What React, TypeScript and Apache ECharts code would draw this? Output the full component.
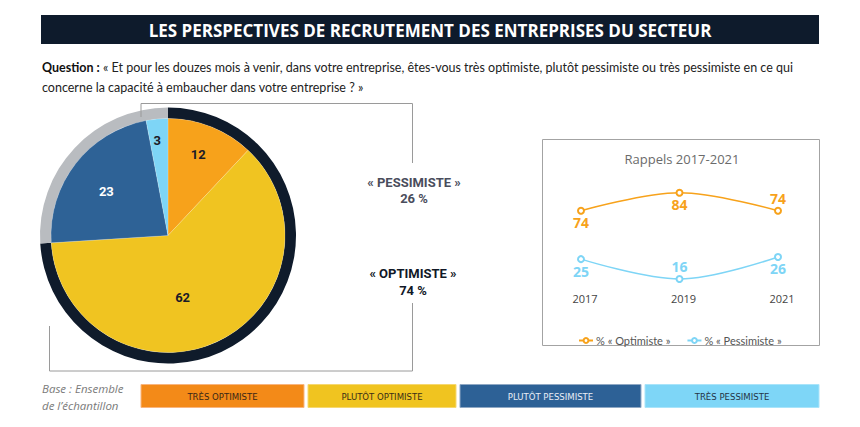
import React, { useEffect, useRef } from "react";
import * as echarts from "echarts";

// ---- data ----
const pieCategories = ["Très optimiste", "Plutôt optimiste", "Plutôt pessimiste", "Très pessimiste"];
const pieValues = [12, 62, 23, 3];
const ringCategories = ["« OPTIMISTE »", "« PESSIMISTE »"];
const ringValues = [74, 26];
const years = ["2017", "2019", "2021"];
const optimisteValues = [74, 84, 74];
const pessimisteValues = [25, 16, 26];
const baseLines = ["Base : Ensemble", "de l’échantillon"];

// ---- styles ----
const sliceColors = ["#F7A21B", "#F0C421", "#2E6296", "#7ED5F6"];
const sliceLabelColors = ["#1B1B28", "#1B1B28", "#FFFFFF", "#1B1B28"];
const legendColors = ["#F38A18", "#F0C420", "#2D6196", "#7ED6F7"];
const legendBorders = ["#F9B57E", "#F6D870", "#8FA8C4", "#A9E4FA"];
const legendTextColors = ["#3A2616", "#3A2E16", "#E8EEF6", "#243446"];
const legendX = [141, 308, 460, 645];
const legendW = [163, 148, 181, 174];
const ringColors = ["#0F1B2B", "#B9BCC0"];
const labelRadius = [86, 64, 76, 96];
const labelAngleShift = [-1, 12, -2, -1];
const optColor = "#F7A21B";
const pesColor = "#7ED5F6";

const CX = 168;
const CY = 235.5;

export default function App() {
  const ref = useRef<HTMLDivElement>(null);
  useEffect(() => {
    if (!ref.current) return;
    const chart = echarts.init(ref.current, null, { renderer: "svg" });
    const total = pieValues.reduce((a, b) => a + b, 0);
    const mids: number[] = [];
    let acc = 0;
    pieValues.forEach((v) => {
      mids.push(((acc + v / 2) / total) * 360);
      acc += v;
    });

    const legendGraphics: any[] = [];
    pieCategories.forEach((c, i) => {
      legendGraphics.push({
        type: "rect",
        shape: { x: legendX[i], y: 384.5, width: legendW[i], height: 23 },
        style: { fill: legendColors[i], stroke: legendBorders[i], lineWidth: 1 },
      });
      legendGraphics.push({
        type: "text",
        x: legendX[i] + legendW[i] / 2,
        y: 396.5,
        style: {
          text: c.toUpperCase(),
          fill: legendTextColors[i],
          font: "9.5px 'Liberation Sans Narrow', 'DejaVu Sans Condensed', 'Roboto', sans-serif",
          textAlign: "center",
          textVerticalAlign: "middle",
        },
      });
    });
    const baseGraphics = baseLines.map((t, i) => ({
      type: "text",
      x: 42,
      y: 388.5 + i * 16.5,
      style: {
        text: t,
        fill: "#7A7A7A",
        font: "italic 11.5px 'Open Sans', sans-serif",
        textVerticalAlign: "middle",
      },
    }));

    const option: any = {
      animation: false,
      backgroundColor: "#FFFFFF",
      graphic: [
        {
          type: "rect",
          shape: { x: 41, y: 15, width: 778, height: 29 },
          style: { fill: "#0E1B2C" },
        },
        {
          type: "text",
          x: 430,
          y: 30,
          style: {
            text: "LES PERSPECTIVES DE RECRUTEMENT DES ENTREPRISES DU SECTEUR",
            fill: "#FFFFFF",
            font: "bold 17px 'Open Sans', sans-serif",
            textAlign: "center",
            textVerticalAlign: "middle",
          },
        },
        {
          type: "text",
          x: 42,
          y: 57,
          style: {
            text:
              "{b|Question :} « Et pour les douzes mois à venir, dans votre entreprise, êtes-vous très optimiste, plutôt pessimiste ou très pessimiste en ce qui\nconcerne la capacité à embaucher dans votre entreprise ? »",
            fill: "#222222",
            font: "12.5px 'Lato', sans-serif",
            lineHeight: 20,
            rich: {
              b: { font: "bold 12.5px 'Lato', sans-serif", fill: "#111111", lineHeight: 20 },
            },
          },
        },
        // bracket lines
        {
          type: "polyline",
          z: 10,
          shape: { points: [[141, 117], [141, 103.5], [412.5, 103.5], [412.5, 163]] },
          style: { stroke: "#9A9A9A", lineWidth: 1, fill: "none" },
        },
        {
          type: "polyline",
          shape: { points: [[49.5, 326], [49.5, 371], [412.5, 371], [412.5, 303]] },
          style: { stroke: "#9A9A9A", lineWidth: 1, fill: "none" },
        },
        {
          type: "text",
          x: 414,
          y: 182,
          style: {
            text: ringCategories[1],
            fill: "#4A4D5C",
            font: "bold 13px 'Roboto', sans-serif",
            textAlign: "center",
            textVerticalAlign: "middle",
          },
        },
        {
          type: "text",
          x: 414,
          y: 198,
          style: {
            text: ringValues[1] + " %",
            fill: "#4A4D5C",
            font: "bold 13px 'Roboto', sans-serif",
            textAlign: "center",
            textVerticalAlign: "middle",
          },
        },
        {
          type: "text",
          x: 413,
          y: 273,
          style: {
            text: ringCategories[0],
            fill: "#111827",
            font: "bold 13px 'Roboto', sans-serif",
            textAlign: "center",
            textVerticalAlign: "middle",
          },
        },
        {
          type: "text",
          x: 413,
          y: 290,
          style: {
            text: ringValues[0] + " %",
            fill: "#111827",
            font: "bold 13px 'Roboto', sans-serif",
            textAlign: "center",
            textVerticalAlign: "middle",
          },
        },
        // line chart box
        {
          type: "rect",
          shape: { x: 542.5, y: 139.5, width: 277, height: 206 },
          style: { fill: "none", stroke: "#A3A3A3", lineWidth: 1 },
        },
        {
          type: "text",
          x: 682,
          y: 159,
          style: {
            text: "Rappels 2017-2021",
            fill: "#6B6B6B",
            font: "13px 'Open Sans', sans-serif",
            textAlign: "center",
            textVerticalAlign: "middle",
          },
        },
        ...baseGraphics,
        ...legendGraphics,
      ],
      grid: { left: 581, right: 82, top: 182, bottom: 427 - 290 },
      xAxis: {
        type: "category",
        data: years,
        boundaryGap: false,
        axisLine: { show: false },
        axisTick: { show: false },
        splitLine: { show: false },
        axisLabel: {
          margin: 3,
          color: "#444444",
          fontSize: 11,
          fontFamily: "'Open Sans', sans-serif",
          padding: [0, 0, 0, 8],
        },
      },
      yAxis: [
        { type: "value", min: 30, max: 90, show: false },
        { type: "value", min: 11, max: 60, show: false },
      ],
      legend: {
        left: 573,
        top: 330,
        itemWidth: 14,
        itemHeight: 6,
        itemGap: 16,
        textStyle: { color: "#555555", fontSize: 11, fontFamily: "'Lato', sans-serif", padding: [0, 0, 0, -2] },
        data: ["% « Optimiste »", "% « Pessimiste »"],
      },
      series: [
        {
          type: "pie",
          silent: true,
          center: [CX, CY],
          radius: [117, 128],
          startAngle: 90,
          clockwise: true,
          label: { show: false },
          labelLine: { show: false },
          data: ringValues.map((v, i) => ({ name: ringCategories[i], value: v, itemStyle: { color: ringColors[i] } })),
        },
        {
          type: "pie",
          silent: true,
          center: [CX, CY],
          radius: [0, 117],
          startAngle: 90,
          clockwise: true,
          itemStyle: { borderColor: "rgba(255,255,255,0.35)", borderWidth: 0.5 },
          label: {
            show: true,
            position: "inside",
            formatter: "{c}",
            fontSize: 13,
            fontWeight: "bold",
            fontFamily: "'Roboto', sans-serif",
          },
          labelLine: { show: false },
          labelLayout: (p: any) => {
            const i = p.dataIndex;
            const a = ((mids[i] + labelAngleShift[i]) * Math.PI) / 180;
            return { x: CX + labelRadius[i] * Math.sin(a), y: CY - labelRadius[i] * Math.cos(a), align: "center", verticalAlign: "middle" };
          },
          data: pieValues.map((v, i) => ({
            name: pieCategories[i],
            value: v,
            itemStyle: { color: sliceColors[i] },
            label: { color: sliceLabelColors[i] },
          })),
        },
        {
          name: "% « Optimiste »",
          type: "line",
          yAxisIndex: 0,
          smooth: 0.35,
          symbol: "emptyCircle",
          symbolSize: 6,
          lineStyle: { color: optColor, width: 1.5 },
          itemStyle: { color: optColor, borderWidth: 1.5 },
          label: {
            show: true,
            color: optColor,
            fontSize: 14,
            fontWeight: "bold",
            fontFamily: "'Open Sans', sans-serif",
            distance: 1,
          },
          data: optimisteValues.map((v, i) => ({
            value: v,
            label: { position: ["bottom", "bottom", "top"][i] },
          })),
        },
        {
          name: "% « Pessimiste »",
          type: "line",
          yAxisIndex: 1,
          smooth: 0.35,
          symbol: "emptyCircle",
          symbolSize: 6,
          lineStyle: { color: pesColor, width: 1.5 },
          itemStyle: { color: pesColor, borderWidth: 1.5 },
          label: {
            show: true,
            color: pesColor,
            fontSize: 14,
            fontWeight: "bold",
            fontFamily: "'Open Sans', sans-serif",
            distance: 1,
          },
          data: pessimisteValues.map((v, i) => ({
            value: v,
            label: { position: ["bottom", "top", "bottom"][i] },
          })),
        },
      ],
    };
    chart.setOption(option);
    return () => chart.dispose();
  }, []);
  return (
    <div
      ref={ref}
      style={{ position: "absolute", left: 0, top: 0, width: 860, height: 427, background: "#FFFFFF" }}
    />
  );
}
